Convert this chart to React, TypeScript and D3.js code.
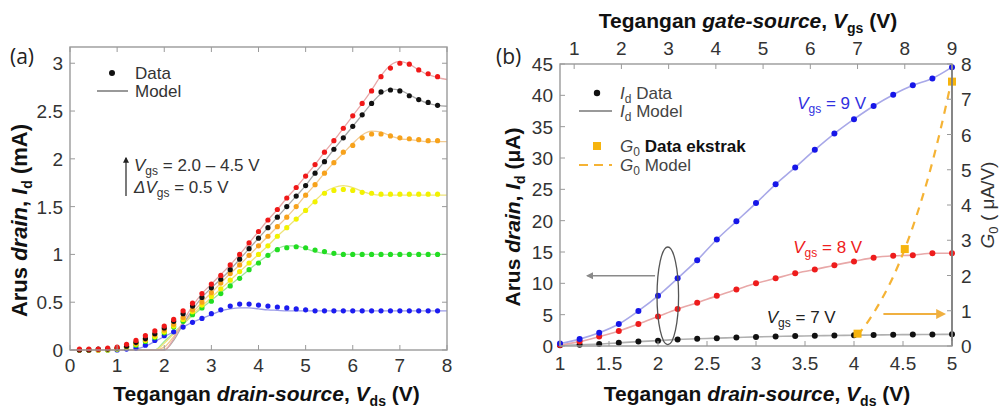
import React from "react";
import * as d3 from "d3";

// ---------------- Panel (a): Id vs Vds for Vgs = 2.0 ... 4.5 V ----------------
const vdsA = [0.2,0.4,0.6,0.8,1.0,1.2,1.4,1.6,1.8,2.0,2.2,2.4,2.6,2.8,3.0,3.2,3.4,3.6,3.8,4.0,4.2,4.4,4.6,4.8,5.0,5.2,5.4,5.6,5.8,6.0,6.2,6.4,6.6,6.8,7.0,7.2,7.4,7.6,7.8];
const idVgs20 = [0,0,0,0,0,0.01,0.02,0.05,0.10,0.15,0.19,0.24,0.29,0.33,0.38,0.42,0.46,0.48,0.48,0.47,0.46,0.45,0.44,0.43,0.42,0.41,0.41,0.41,0.41,0.41,0.41,0.41,0.41,0.41,0.41,0.41,0.41,0.41,0.41];
const idVgs25 = [0,0,0,0,0.01,0.03,0.05,0.09,0.13,0.18,0.24,0.30,0.37,0.44,0.51,0.59,0.67,0.75,0.84,0.91,0.99,1.05,1.07,1.08,1.07,1.045,1.03,1.01,1.0,1.0,1.0,1.0,1.0,1.0,1.0,1.0,1.0,1.0,1.0];
const idVgs30 = [0,0,0,0,0.01,0.03,0.06,0.10,0.14,0.19,0.25,0.32,0.40,0.47,0.56,0.64,0.73,0.82,0.91,1.00,1.09,1.19,1.28,1.37,1.46,1.55,1.64,1.67,1.68,1.67,1.65,1.64,1.63,1.63,1.63,1.63,1.63,1.63,1.63];
const idVgs35 = [0,0,0,0.01,0.02,0.04,0.07,0.11,0.16,0.21,0.27,0.34,0.42,0.50,0.60,0.70,0.80,0.89,0.99,1.09,1.19,1.29,1.39,1.50,1.62,1.73,1.85,1.96,2.07,2.14,2.22,2.26,2.26,2.24,2.22,2.21,2.20,2.19,2.19];
const idVgs40 = [0,0,0.01,0.01,0.02,0.04,0.08,0.12,0.17,0.23,0.30,0.38,0.46,0.55,0.65,0.74,0.84,0.95,1.06,1.17,1.28,1.39,1.50,1.61,1.72,1.85,1.97,2.10,2.22,2.34,2.46,2.58,2.70,2.72,2.71,2.66,2.62,2.59,2.56];
const idVgs45 = [0.01,0.01,0.01,0.02,0.03,0.06,0.10,0.15,0.20,0.25,0.32,0.41,0.49,0.59,0.69,0.78,0.89,1.00,1.12,1.24,1.36,1.47,1.59,1.70,1.82,1.94,2.07,2.19,2.32,2.45,2.58,2.71,2.86,2.95,3.00,2.99,2.93,2.89,2.86];

const vdsModelA = [0,1.2,1.4,1.6,1.8,2.0,2.2,2.4,2.6,2.8,3.0,3.2,3.4,3.6,3.8,4.0,4.2,4.4,4.6,4.8,5.0,5.2,5.4,5.6,5.8,6.0,6.2,6.4,6.6,6.8,7.0,7.2,7.4,7.6,7.8,8.0];
const modelVgs20 = [0,0,0.01,0.04,0.09,0.14,0.19,0.24,0.29,0.33,0.37,0.41,0.43,0.44,0.44,0.43,0.42,0.415,0.41,0.41,0.41,0.41,0.41,0.41,0.41,0.41,0.41,0.41,0.41,0.41,0.41,0.41,0.41,0.41,0.41,0.41];
const modelVgs25 = [0,0,0,0,0,0.09,0.18,0.27,0.36,0.44,0.52,0.60,0.68,0.76,0.84,0.92,0.99,1.06,1.09,1.09,1.06,1.03,1.01,1.0,1.0,1.0,1.0,1.0,1.0,1.0,1.0,1.0,1.0,1.0,1.0,1.0];
const modelVgs30 = [0,0,0,0,0,0.07,0.17,0.27,0.37,0.46,0.55,0.64,0.73,0.82,0.91,1.0,1.09,1.19,1.28,1.37,1.46,1.56,1.65,1.70,1.72,1.70,1.66,1.63,1.62,1.62,1.62,1.62,1.62,1.62,1.62,1.62];
const modelVgs35 = [0,0,0,0,0,0.03,0.14,0.27,0.39,0.50,0.60,0.70,0.80,0.89,0.99,1.09,1.19,1.29,1.39,1.50,1.62,1.73,1.85,1.96,2.06,2.16,2.25,2.29,2.28,2.24,2.21,2.20,2.19,2.18,2.18,2.18];
const modelVgs40 = [0,0,0,0,0,0,0.10,0.27,0.42,0.55,0.65,0.74,0.84,0.95,1.06,1.17,1.28,1.39,1.50,1.61,1.72,1.85,1.97,2.10,2.22,2.34,2.46,2.58,2.68,2.73,2.72,2.67,2.62,2.58,2.56,2.55];
const modelVgs45 = [0,0,0,0,0,0,0.12,0.30,0.46,0.59,0.69,0.79,0.89,1.00,1.12,1.24,1.36,1.47,1.59,1.70,1.82,1.94,2.07,2.19,2.32,2.45,2.58,2.72,2.87,2.98,3.02,2.99,2.93,2.88,2.85,2.83];

const xTicksA = [0,1,2,3,4,5,6,7,8];
const yTicksA = [0,0.5,1,1.5,2,2.5,3];

// ---------------- Panel (b) ----------------
const vdsB = [1.0,1.2,1.4,1.6,1.8,2.0,2.2,2.4,2.6,2.8,3.0,3.2,3.4,3.6,3.8,4.0,4.2,4.4,4.6,4.8,5.0];
const idB9 = [0.4,1.1,2.1,3.5,5.6,8.0,10.8,13.7,17.0,19.9,22.8,25.8,28.5,31.3,33.9,36.2,38.3,40.1,41.6,42.7,44.5];
const idB8 = [0.15,0.7,1.5,2.4,3.5,4.7,5.9,6.9,8.0,9.0,10.0,10.8,11.6,12.2,12.9,13.5,14.1,14.4,14.5,14.8,14.8];
const idB7 = [0.1,0.2,0.3,0.5,0.7,0.85,1.05,1.15,1.25,1.35,1.45,1.52,1.58,1.63,1.68,1.72,1.76,1.8,1.82,1.84,1.86];
const vgsG0Data = [7,8,9];
const g0Data = [0.35,2.75,7.5];
const vgsG0Model = [7.0,7.25,7.5,7.75,8.0,8.25,8.5,8.75,9.0];
const g0Model = [0.3,0.75,1.3,1.95,2.75,3.7,4.8,6.1,7.6];

const xTicksB = [1,1.5,2,2.5,3,3.5,4,4.5,5];
const yTicksB = [0,5,10,15,20,25,30,35,40,45];
const gTicksB = [0,1,2,3,4,5,6,7,8];
const vgsTicksB = [1,2,3,4,5,6,7,8,9];

const W = 1004, H = 409;
const FONT = "'Liberation Sans', Arial, Helvetica, sans-serif";
const TICK_COL = "#333";
const FRAME = "#9a9a9a";

const A = { left: 70, right: 447, top: 47, bottom: 350 };
const B = { left: 560, right: 952, top: 64, bottom: 346 };

const fmt = (v: number) => String(v);

export default function App() {
  const xA = d3.scaleLinear().domain([0, 8]).range([A.left, A.right]);
  const yA = d3.scaleLinear().domain([0, 3.17]).range([A.bottom, A.top]);

  const xB = d3.scaleLinear().domain([1, 5]).range([B.left, B.right]);
  const yB = d3.scaleLinear().domain([0, 45]).range([B.bottom, B.top]);
  const yG = d3.scaleLinear().domain([0, 8]).range([B.bottom, B.top]);
  const xV = d3.scaleLinear().domain([0.7, 9]).range([B.left, B.right]);

  const seriesA = [
    { data: idVgs20, model: modelVgs20, color: "#1c1cf0", mcol: "#9a9ae8" },
    { data: idVgs25, model: modelVgs25, color: "#22dd22", mcol: "#9be69b" },
    { data: idVgs30, model: modelVgs30, color: "#f2f200", mcol: "#eee47a" },
    { data: idVgs35, model: modelVgs35, color: "#f7a21b", mcol: "#f2ca90" },
    { data: idVgs40, model: modelVgs40, color: "#111111", mcol: "#a8a8a8" },
    { data: idVgs45, model: modelVgs45, color: "#f01818", mcol: "#e8a8a8" },
  ];

  const lineA = (vals: number[]) =>
    d3.line<number>().x((_, i) => xA(vdsModelA[i])).y((d) => yA(d)).curve(d3.curveMonotoneX)(vals) || "";
  const lineB = (vals: number[]) =>
    d3.line<number>().x((_, i) => xB(vdsB[i])).y((d) => yB(d)).curve(d3.curveMonotoneX)(vals) || "";
  const lineG = d3.line<number>().x((_, i) => xV(vgsG0Model[i])).y((d) => yG(d)).curve(d3.curveMonotoneX)(g0Model) || "";

  const seriesB = [
    { data: idB7, color: "#111111", mcol: "#b0b0b0" },
    { data: idB8, color: "#ee1c1c", mcol: "#e8a8a8" },
    { data: idB9, color: "#1616e8", mcol: "#a8a8e8" },
  ];

  const tickLen = 5;

  return (
    <svg width={W} height={H} style={{ position: "absolute", left: 0, top: 0, background: "#fff" }} fontFamily={FONT}>
      <defs>
        <marker id="arrBlack" viewBox="0 0 10 10" refX="8" refY="5" markerWidth="5" markerHeight="6" orient="auto">
          <path d="M0,0 L10,5 L0,10 z" fill="#222" />
        </marker>
        <marker id="arrGray" viewBox="0 0 10 10" refX="8" refY="5" markerWidth="5" markerHeight="5" orient="auto">
          <path d="M0,0 L10,5 L0,10 z" fill="#8a8a8a" />
        </marker>
        <marker id="arrOrange" viewBox="0 0 10 10" refX="8" refY="5" markerWidth="5" markerHeight="5" orient="auto">
          <path d="M0,0 L10,5 L0,10 z" fill="#f0b040" />
        </marker>
      </defs>
      <rect width={W} height={H} fill="#fff" />

      {/* ================= Panel (a) ================= */}
      <text x={10} y={64} fontSize={21} fill="#222" fontFamily="'Open Sans', sans-serif">(a)</text>

      {seriesA.map((s, k) => (
        <path key={"ma" + k} d={lineA(s.model)} fill="none" stroke={s.mcol} strokeWidth={1.3} />
      ))}
      {seriesA.map((s, k) => (
        <g key={"da" + k}>
          {s.data.map((v, i) => (
            <circle key={i} cx={xA(vdsA[i])} cy={yA(v)} r={2.6} fill={s.color} />
          ))}
        </g>
      ))}

      <rect x={A.left} y={A.top} width={A.right - A.left} height={A.bottom - A.top} fill="none" stroke={FRAME} strokeWidth={1.4} />
      {xTicksA.map((t) => (
        <g key={"xta" + t}>
          <line x1={xA(t)} x2={xA(t)} y1={A.bottom} y2={A.bottom - tickLen} stroke={FRAME} />
          <line x1={xA(t)} x2={xA(t)} y1={A.top} y2={A.top + tickLen} stroke={FRAME} />
          <text x={xA(t)} y={A.bottom + 22} fontSize={19} textAnchor="middle" fill={TICK_COL}>{fmt(t)}</text>
        </g>
      ))}
      {yTicksA.map((t) => (
        <g key={"yta" + t}>
          <line x1={A.left} x2={A.left + tickLen} y1={yA(t)} y2={yA(t)} stroke={FRAME} />
          <line x1={A.right} x2={A.right - tickLen} y1={yA(t)} y2={yA(t)} stroke={FRAME} />
          <text x={A.left - 7} y={yA(t) + 7} fontSize={19} textAnchor="end" fill={TICK_COL}>{fmt(t)}</text>
        </g>
      ))}

      <text x={(A.left + A.right) / 2 + 8} y={401} fontSize={21} fontWeight="bold" textAnchor="middle" fill="#111">
        Tegangan <tspan fontStyle="italic">drain-source</tspan>, <tspan fontStyle="italic">V</tspan>
        <tspan fontSize={14} dy={5}>ds</tspan><tspan dy={-5}> (V)</tspan>
      </text>
      <text transform={`translate(27,${(A.top + A.bottom) / 2 + 22}) rotate(-90)`} fontSize={22} fontWeight="bold" textAnchor="middle" fill="#111">
        Arus <tspan fontStyle="italic">drain</tspan>, <tspan fontStyle="italic">I</tspan>
        <tspan fontSize={14} dy={5}>d</tspan><tspan dy={-5}> (mA)</tspan>
      </text>

      <circle cx={112} cy={73} r={3} fill="#111" />
      <text x={135} y={79} fontSize={17} fill="#333">Data</text>
      <line x1={97} x2={128} y1={91} y2={91} stroke="#555" strokeWidth={1.2} />
      <text x={135} y={97} fontSize={17} fill="#333">Model</text>

      <line x1={126} x2={126} y1={196} y2={158} stroke="#222" strokeWidth={1.2} markerEnd="url(#arrBlack)" />
      <text x={134} y={171} fontSize={17} fill="#333">
        <tspan fontStyle="italic">V</tspan><tspan fontSize={12} dy={4}>gs</tspan><tspan dy={-4}> = 2.0 – 4.5 V</tspan>
      </text>
      <text x={134} y={193} fontSize={17} fill="#333">
        <tspan fontStyle="italic">ΔV</tspan><tspan fontSize={12} dy={4}>gs</tspan><tspan dy={-4}> = 0.5 V</tspan>
      </text>

      {/* ================= Panel (b) ================= */}
      <text x={496} y={64} fontSize={21} fill="#222" fontFamily="'Open Sans', sans-serif">(b)</text>

      {seriesB.map((s, k) => (
        <path key={"mb" + k} d={lineB(s.data)} fill="none" stroke={s.mcol} strokeWidth={1.6} />
      ))}
      <path d={lineG} fill="none" stroke="#f5b335" strokeWidth={2.2} strokeDasharray="8,7" />
      {seriesB.map((s, k) => (
        <g key={"db" + k}>
          {s.data.map((v, i) => (
            <circle key={i} cx={xB(vdsB[i])} cy={yB(v)} r={3} fill={s.color} />
          ))}
        </g>
      ))}
      {g0Data.map((v, i) => (
        <rect key={"g" + i} x={xV(vgsG0Data[i]) - 4} y={yG(v) - 4} width={8} height={8} fill="#f6b40e" />
      ))}

      <ellipse cx={xB(2.1)} cy={(yB(0.2) + yB(15.8)) / 2} rx={(xB(2.21) - xB(1.99)) / 2} ry={(yB(0.2) - yB(15.8)) / 2}
        fill="none" stroke="#555" strokeWidth={1.3} />
      <line x1={xB(1.97)} x2={xB(1.28)} y1={yB(11.2)} y2={yB(11.2)} stroke="#8a8a8a" strokeWidth={1.5} markerEnd="url(#arrGray)" />
      <line x1={xB(4.3)} x2={xB(4.92)} y1={yB(5.1)} y2={yB(5.1)} stroke="#f0b040" strokeWidth={2} markerEnd="url(#arrOrange)" />

      <text x={xB(3.42)} y={yB(38.8) + 6} fontSize={17} fill="#3030e0">
        <tspan fontStyle="italic">V</tspan><tspan fontSize={12} dy={4}>gs</tspan><tspan dy={-4}> = 9 V</tspan>
      </text>
      <text x={xB(3.38)} y={yB(15.8) + 6} fontSize={17} fill="#ee2020">
        <tspan fontStyle="italic">V</tspan><tspan fontSize={12} dy={4}>gs</tspan><tspan dy={-4}> = 8 V</tspan>
      </text>
      <text x={xB(3.11)} y={yB(4.6) + 6} fontSize={17} fill="#222">
        <tspan fontStyle="italic">V</tspan><tspan fontSize={12} dy={4}>gs</tspan><tspan dy={-4}> = 7 V</tspan>
      </text>

      <rect x={B.left} y={B.top} width={B.right - B.left} height={B.bottom - B.top} fill="none" stroke={FRAME} strokeWidth={1.4} />
      <line x1={B.right} x2={B.right} y1={B.top} y2={B.bottom} stroke="#7a7a7a" strokeWidth={1.6} />
      {xTicksB.map((t) => (
        <g key={"xtb" + t}>
          <line x1={xB(t)} x2={xB(t)} y1={B.bottom} y2={B.bottom - tickLen} stroke={FRAME} />
          <text x={xB(t)} y={B.bottom + 24} fontSize={19} textAnchor="middle" fill={TICK_COL}>{fmt(t)}</text>
        </g>
      ))}
      {yTicksB.map((t) => (
        <g key={"ytb" + t}>
          <line x1={B.left} x2={B.left + tickLen} y1={yB(t)} y2={yB(t)} stroke={FRAME} />
          <text x={B.left - 7} y={yB(t) + 7} fontSize={19} textAnchor="end" fill={TICK_COL}>{fmt(t)}</text>
        </g>
      ))}
      {gTicksB.map((t) => (
        <g key={"gtb" + t}>
          <line x1={B.right} x2={B.right - tickLen} y1={yG(t)} y2={yG(t)} stroke={FRAME} />
          <text x={B.right + 9} y={yG(t) + 7} fontSize={19} textAnchor="start" fill={TICK_COL}>{fmt(t)}</text>
        </g>
      ))}
      {vgsTicksB.map((t) => (
        <g key={"vtb" + t}>
          <line x1={xV(t)} x2={xV(t)} y1={B.top} y2={B.top + tickLen} stroke={FRAME} />
          <text x={xV(t)} y={B.top - 9} fontSize={19} textAnchor="middle" fill={TICK_COL}>{fmt(t)}</text>
        </g>
      ))}

      <text x={757} y={401} fontSize={21} fontWeight="bold" textAnchor="middle" fill="#111">
        Tegangan <tspan fontStyle="italic">drain-source</tspan>, <tspan fontStyle="italic">V</tspan>
        <tspan fontSize={14} dy={5}>ds</tspan><tspan dy={-5}> (V)</tspan>
      </text>
      <text x={748} y={28} fontSize={21} fontWeight="bold" textAnchor="middle" fill="#111">
        Tegangan <tspan fontStyle="italic">gate-source</tspan>, <tspan fontStyle="italic">V</tspan>
        <tspan fontSize={14} dy={5}>gs</tspan><tspan dy={-5}> (V)</tspan>
      </text>
      <text transform={`translate(520,${(B.top + B.bottom) / 2 + 12}) rotate(-90)`} fontSize={21} fontWeight="bold" textAnchor="middle" fill="#111">
        Arus <tspan fontStyle="italic">drain</tspan>, <tspan fontStyle="italic">I</tspan>
        <tspan fontSize={14} dy={5}>d</tspan><tspan dy={-5}> (μA)</tspan>
      </text>
      <text transform={`translate(994,${(B.top + B.bottom) / 2}) rotate(-90)`} fontSize={19} textAnchor="middle" fill="#333">
        <tspan fontStyle="italic">G</tspan><tspan fontSize={13} dy={4}>0</tspan><tspan dy={-4}> ( μA/V)</tspan>
      </text>

      <circle cx={597} cy={93} r={3.2} fill="#111" />
      <text x={620} y={99} fontSize={17} fill="#444">
        <tspan fontStyle="italic">I</tspan><tspan fontSize={12} dy={4}>d</tspan><tspan dy={-4}> Data</tspan>
      </text>
      <line x1={579} x2={612} y1={111} y2={111} stroke="#777" strokeWidth={1.3} />
      <text x={620} y={117} fontSize={17} fill="#444">
        <tspan fontStyle="italic">I</tspan><tspan fontSize={12} dy={4}>d</tspan><tspan dy={-4}> Model</tspan>
      </text>
      <rect x={593} y={142} width={8} height={8} fill="#f6b40e" />
      <text x={620} y={152} fontSize={17} fill="#444">
        <tspan fontStyle="italic">G</tspan><tspan fontSize={12} dy={4}>0</tspan>
        <tspan dy={-4} fontWeight="bold" fill="#111">  Data ekstrak</tspan>
      </text>
      <line x1={579} x2={612} y1={165} y2={165} stroke="#f5b335" strokeWidth={2.2} strokeDasharray="9,6" />
      <text x={620} y={171} fontSize={17} fill="#444">
        <tspan fontStyle="italic">G</tspan><tspan fontSize={12} dy={4}>0</tspan><tspan dy={-4}> Model</tspan>
      </text>
    </svg>
  );
}
